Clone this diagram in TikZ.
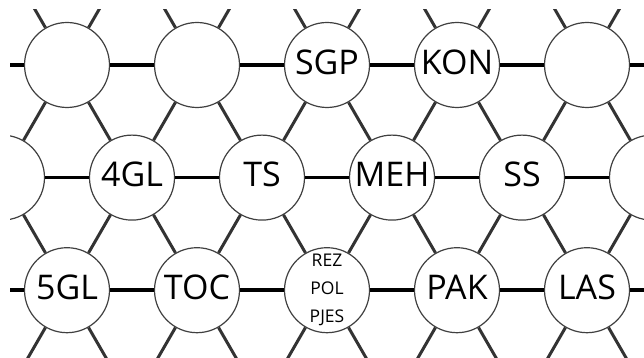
\documentclass[tikz,border=0pt]{standalone}
\usepackage{fontspec}
\setmainfont{Open Sans}
\usepackage{tikz}

\begin{document}
\begin{tikzpicture}[x=1pt, y=-1pt]
\tikzstyle{every node} = [circle, draw=black!75, line width=1.2pt, fill=white, minimum size=85pt, inner sep=0pt, font=\fontsize{34}{34}\selectfont, text depth=6pt]
\tikzstyle{rung} = [line width=3.5pt, black]
\tikzstyle{spoke} = [line width=3pt, black!80]
\useasboundingbox (0,0) rectangle (644,358);
\clip (10,10) rectangle (644,358);
% rows 0 and 4 lie outside the frame, they only carry the cut spokes
\foreach \c in {0,...,7} {
  \node (n0\c) at (130*\c-128,-47.6) {};
  \node (n4\c) at (130*\c-128,402.8) {};
}
\foreach \c/\txt in {0/~,1/~,2/~,3/SGP,4/KON,5/~,6/~}
  \node (n1\c) at (130*\c-63,65) {\txt};
\foreach \c/\txt in {0/~,1/~,2/4GL,3/TS,4/MEH,5/SS,6/~,7/~}
  \node (n2\c) at (130*\c-128,177.6) {\txt};
\foreach \c/\txt in {0/~,1/5GL,2/TOC,4/PAK,5/LAS,6/~}
  \node (n3\c) at (130*\c-63,290.2) {\txt};
\node[align=center, text depth={}, font=\fontsize{17.5}{28}\selectfont] (n33) at (327,290.2) {REZ\\POL\\PJES};
% horizontal links
\foreach \r/\last in {1/5, 2/6, 3/5}
  \foreach \c in {0,...,\last} {
    \pgfmathtruncatemacro{\d}{\c+1}
    \draw[rung] (n\r\c) -- (n\r\d);
  }
% slanted links
\foreach \r/\up/\dn in {1/0/2, 3/2/4}
  \foreach \c in {0,...,6} {
    \pgfmathtruncatemacro{\d}{\c+1}
    \draw[spoke] (n\r\c) -- (n\up\c);
    \draw[spoke] (n\r\c) -- (n\up\d);
    \draw[spoke] (n\r\c) -- (n\dn\c);
    \draw[spoke] (n\r\c) -- (n\dn\d);
  }
\end{tikzpicture}
\end{document}
